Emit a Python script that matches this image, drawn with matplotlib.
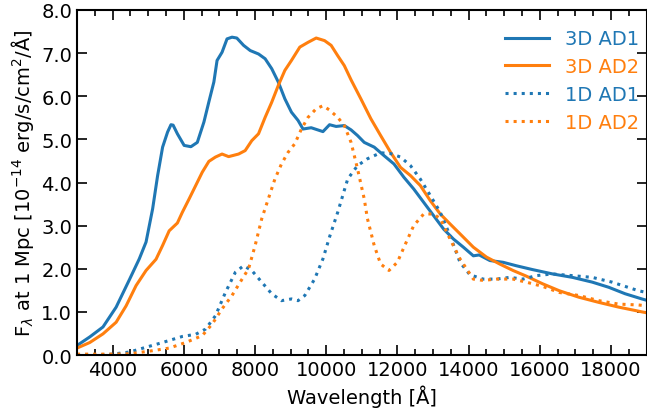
import matplotlib
matplotlib.use("Agg")
import matplotlib.pyplot as plt
from matplotlib.ticker import MultipleLocator, FormatStrFormatter

plt.rcParams['font.family'] = ['DejaVu Sans Condensed', 'DejaVu Sans']
plt.rcParams['mathtext.fontset'] = 'dejavusans'

# ---- data ----
wl_3d_ad1 = [3000, 3360, 3730, 4100, 4480, 4750, 4940, 5125, 5265, 5405, 5545, 5640, 5700, 5820,
             6010, 6200, 6380, 6565, 6705, 6845, 6935, 7075, 7215, 7355, 7490, 7680, 7866, 8100,
             8285, 8470, 8655, 8840, 9025, 9210, 9350, 9580, 9910, 10095, 10280, 10510, 10700,
             10880, 11070, 11350, 11630, 11905, 12185, 12460, 12740, 13020, 13300, 13575, 13855,
             14135, 14300, 14600, 14970, 15340, 15800, 16360, 16920, 17475, 17940, 18400, 18870, 19000]
fl_3d_ad1 = [0.22, 0.42, 0.65, 1.11, 1.76, 2.23, 2.62, 3.39, 4.16, 4.82, 5.17, 5.34, 5.33, 5.13,
             4.86, 4.83, 4.93, 5.40, 5.87, 6.33, 6.83, 7.02, 7.33, 7.37, 7.35, 7.18, 7.06, 6.98,
             6.87, 6.64, 6.33, 5.94, 5.63, 5.44, 5.24, 5.27, 5.18, 5.34, 5.30, 5.32, 5.22,
             5.09, 4.93, 4.82, 4.62, 4.43, 4.12, 3.85, 3.54, 3.23, 2.92, 2.69, 2.50,
             2.30, 2.32, 2.19, 2.15, 2.07, 1.98, 1.88, 1.80, 1.69, 1.57, 1.42, 1.30, 1.27]

wl_3d_ad2 = [3000, 3360, 3730, 4100, 4380, 4660, 4940, 5220, 5405, 5590, 5820, 5960, 6150, 6335,
             6520, 6705, 6890, 7075, 7260, 7540, 7725, 7910, 8100, 8285, 8470, 8655, 8840, 9025,
             9260, 9490, 9720, 9955, 10140, 10325, 10510, 10700, 10975, 11255, 11530, 11810,
             12090, 12370, 12645, 12925, 13205, 13480, 13760, 14135, 14505, 14875, 15250, 15620,
             16085, 16550, 17100, 17660, 18220, 18870, 19000]
fl_3d_ad2 = [0.16, 0.29, 0.49, 0.76, 1.14, 1.61, 1.96, 2.22, 2.54, 2.88, 3.06, 3.31, 3.62, 3.93,
             4.24, 4.49, 4.59, 4.66, 4.60, 4.66, 4.74, 4.97, 5.13, 5.51, 5.86, 6.25, 6.60, 6.83,
             7.14, 7.25, 7.35, 7.29, 7.18, 6.94, 6.71, 6.38, 5.94, 5.48, 5.09, 4.70,
             4.35, 4.16, 3.93, 3.58, 3.27, 3.04, 2.81, 2.50, 2.27, 2.11, 1.96, 1.83,
             1.65, 1.49, 1.34, 1.22, 1.11, 1.00, 0.98]

wl_1d_ad1 = [3000, 3500, 4000, 4480, 4940, 5405, 5960, 6335, 6610, 6890, 7170, 7450, 7680, 7910,
             8190, 8470, 8745, 9025, 9210, 9400, 9675, 9910, 10100, 10325, 10605, 10880, 11160,
             11530, 11810, 12090, 12370, 12645, 12925, 13205, 13480, 13760, 14040, 14410, 14780,
             15155, 15530, 15900, 16360, 16920, 17475, 18030, 18775, 19000]
fl_1d_ad1 = [0.0, 0.0, 0.02, 0.07, 0.18, 0.29, 0.43, 0.48, 0.60, 0.91, 1.45, 1.92, 2.07, 1.96,
             1.69, 1.42, 1.26, 1.30, 1.26, 1.38, 1.76, 2.23, 2.75, 3.31, 4.08, 4.39, 4.55,
             4.69, 4.67, 4.59, 4.39, 4.08, 3.70, 3.31, 2.77, 2.15, 1.86, 1.76, 1.76,
             1.80, 1.76, 1.84, 1.88, 1.84, 1.80, 1.69, 1.49, 1.45]

wl_1d_ad2 = [3000, 3500, 4000, 4500, 5125, 5590, 6055, 6520, 6800, 7075, 7355, 7585, 7820, 8005,
             8190, 8375, 8560, 8745, 8930, 9120, 9305, 9490, 9720, 9910, 10095, 10325, 10510,
             10700, 10880, 11070, 11160, 11350, 11530, 11765, 12000, 12230, 12460, 12740, 13020,
             13205, 13480, 13760, 14135, 14410, 14780, 15250, 15620, 16085, 16550, 17100, 17660,
             18220, 18775, 19000]
fl_1d_ad2 = [0.02, 0.02, 0.02, 0.03, 0.10, 0.16, 0.29, 0.45, 0.72, 1.07, 1.38, 1.69, 2.00, 2.54,
             3.16, 3.62, 4.08, 4.43, 4.70, 4.90, 5.24, 5.51, 5.71, 5.78, 5.68, 5.51, 5.32,
             4.93, 4.32, 3.62, 3.16, 2.54, 2.11, 1.96, 2.15, 2.58, 3.00, 3.27, 3.27,
             3.16, 2.69, 2.23, 1.76, 1.73, 1.76, 1.76, 1.69, 1.59, 1.45, 1.38, 1.26,
             1.18, 1.16, 1.14]

labels = ['3D AD1', '3D AD2', '1D AD1', '1D AD2']
blue = '#1f77b4'
orange = '#ff7f0e'

fig = plt.figure(figsize=(6.47, 4.14), dpi=100)
ax = fig.add_axes([77/647, 1 - 356/414, (646.5 - 77)/647, (356 - 11)/414])

lw = 2.2
ax.plot(wl_3d_ad1, fl_3d_ad1, color=blue, lw=lw, label=labels[0])
ax.plot(wl_3d_ad2, fl_3d_ad2, color=orange, lw=lw, label=labels[1])
ax.plot(wl_1d_ad1, fl_1d_ad1, color=blue, lw=lw, ls=':', label=labels[2])
ax.plot(wl_1d_ad2, fl_1d_ad2, color=orange, lw=lw, ls=':', label=labels[3])

ax.set_xlim(3000, 19000)
ax.set_ylim(0, 8)
ax.xaxis.set_major_locator(MultipleLocator(2000))
ax.xaxis.set_minor_locator(MultipleLocator(500))
ax.yaxis.set_major_locator(MultipleLocator(1.0))
ax.yaxis.set_major_formatter(FormatStrFormatter('%.1f'))
ax.tick_params(which='both', direction='in', top=True, right=True, labelsize=14, width=1.2)
ax.tick_params(which='major', length=7)
ax.tick_params(which='minor', length=4)
for s in ax.spines.values():
    s.set_linewidth(1.5)

ax.set_xlabel('Wavelength [Å]', fontsize=14)
ax.set_ylabel(r'F$_\lambda$ at 1 Mpc [10$^{-14}$ erg/s/cm$^2$/Å]', fontsize=14)

leg = ax.legend(loc='upper right', bbox_to_anchor=(1.021, 1.0), frameon=False, fontsize=14,
                handlelength=2.3, labelcolor='linecolor', borderaxespad=0.6, labelspacing=0.45)

fig.savefig('out.png', dpi=100)
